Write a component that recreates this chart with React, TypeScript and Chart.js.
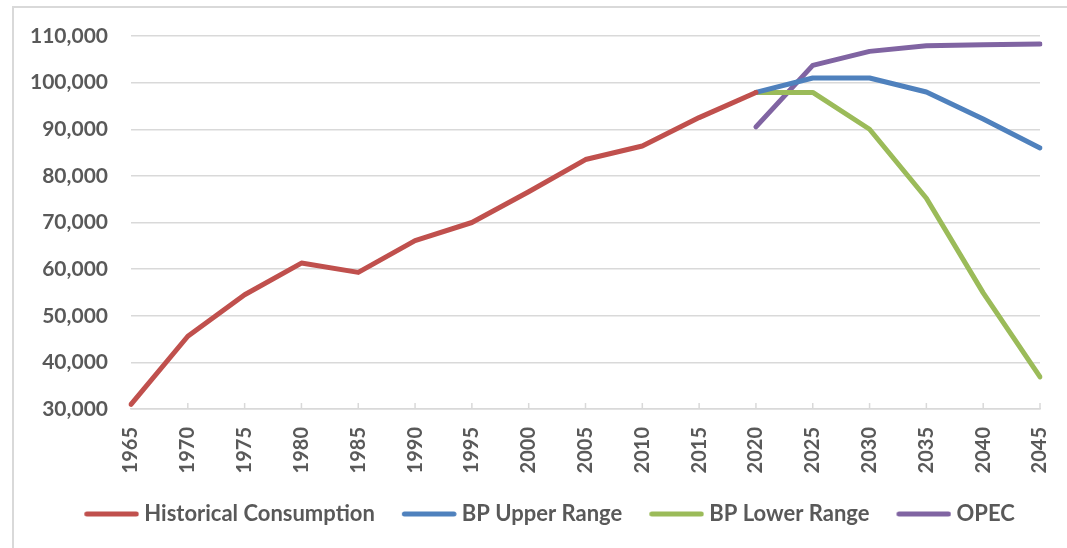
import React, { useEffect, useRef } from 'react';
import { Chart, registerables } from 'chart.js';

Chart.register(...registerables);

const years = ['1965', '1970', '1975', '1980', '1985', '1990', '1995', '2000', '2005', '2010', '2015', '2020', '2025', '2030', '2035', '2040', '2045'];
const historical = [31000, 45600, 54500, 61300, 59300, 66100, 70000, 76600, 83500, 86400, 92500, 97900, null, null, null, null, null];
const bpUpper = [null, null, null, null, null, null, null, null, null, null, null, 97900, 101000, 101000, 98000, 92200, 86000];
const bpLower = [null, null, null, null, null, null, null, null, null, null, null, 97900, 97900, 90000, 75200, 54900, 36900];
const opec = [null, null, null, null, null, null, null, null, null, null, null, 90500, 103700, 106700, 107900, 108100, 108300];

const seriesNames = ['Historical Consumption', 'BP Upper Range', 'BP Lower Range', 'OPEC'];
const seriesColors = ['#c0504d', '#4f81bd', '#9bbb59', '#8064a2'];

const yMin = 30000;
const yMax = 110000;
const yStep = 10000;

const FONT = 'Lato, "Open Sans", sans-serif';
const TEXT = '#595959';
const GRID = '#d9d9d9';
const LEGEND_SHIFT = 29;

function makeLegendSwatch(color: string) {
  const c = document.createElement('canvas');
  c.width = 62;
  c.height = 8;
  const g = c.getContext('2d');
  if (g) {
    g.strokeStyle = color;
    g.lineWidth = 5;
    g.lineCap = 'round';
    g.beginPath();
    g.moveTo(9.5, 4);
    g.lineTo(59, 4);
    g.stroke();
  }
  return c;
}

const helpers = {
  id: 'chartHelpers',
  afterLayout(chart: any) {
    if (chart.legend) {
      chart.legend.left += LEGEND_SHIFT;
      chart.legend.right += LEGEND_SHIFT;
    }
  },
  beforeDatasetsDraw(chart: any) {
    const x = chart.scales.x;
    const ctx = chart.ctx;
    const bottom = chart.chartArea.bottom;
    ctx.save();
    ctx.strokeStyle = GRID;
    ctx.lineWidth = 1.5;
    for (let i = 1; i < x.ticks.length; i++) {
      const px = x.getPixelForTick(i);
      ctx.beginPath();
      ctx.moveTo(px, bottom - 6);
      ctx.lineTo(px, bottom);
      ctx.stroke();
    }
    ctx.restore();
  },
};

export default function App() {
  const canvasRef = useRef<HTMLCanvasElement | null>(null);

  useEffect(() => {
    if (!canvasRef.current) return;
    const allData = [historical, bpUpper, bpLower, opec];
    const swatches = seriesColors.map((c) => makeLegendSwatch(c));
    const defaultGen = (Chart as any).defaults.plugins.legend.labels.generateLabels;
    const chart = new Chart(canvasRef.current, {
      type: 'line',
      data: {
        labels: years,
        datasets: allData.map((d, i) => ({
          label: seriesNames[i],
          data: d,
          borderColor: seriesColors[i],
          backgroundColor: seriesColors[i],
          borderWidth: 5,
          borderCapStyle: 'round',
          borderJoinStyle: 'round',
          pointRadius: 0,
          pointHoverRadius: 0,
          tension: 0,
          fill: false,
          spanGaps: false,
        })),
      },
      options: {
        responsive: false,
        animation: false,
        devicePixelRatio: 1,
        layout: { padding: { top: 36, right: 27, bottom: 13, left: 0 } },
        plugins: {
          tooltip: { enabled: false },
          legend: {
            position: 'bottom',
            labels: {
              usePointStyle: true,
              pointStyleWidth: 50,
              padding: 26,
              color: TEXT,
              font: { family: FONT, size: 22, weight: 'bold' },
              generateLabels: (ch: any) => {
                const items = defaultGen(ch);
                items.forEach((it: any, i: number) => {
                  it.pointStyle = swatches[it.datasetIndex ?? i];
                });
                return items;
              },
            },
          },
        },
        scales: {
          x: {
            type: 'category',
            offset: false,
            grid: { display: false, drawTicks: false },
            border: { display: true, color: GRID, width: 1.5 },
            ticks: {
              autoSkip: false,
              maxRotation: 90,
              minRotation: 90,
              padding: 18,
              color: TEXT,
              font: { family: FONT, size: 20, weight: 'bold' },
            },
            afterFit: (scale: any) => {
              scale.height = 68;
              scale.paddingLeft = 0;
              scale.paddingRight = 0;
            },
          },
          y: {
            min: yMin,
            max: yMax,
            grid: { color: GRID, lineWidth: 1.5, drawTicks: false },
            border: { display: false },
            ticks: {
              stepSize: yStep,
              padding: 23,
              color: TEXT,
              font: { family: FONT, size: 21, weight: 'bold' },
              callback: (v: any) => Number(v).toLocaleString('en-US'),
            },
            afterFit: (scale: any) => {
              scale.width = 131;
            },
          },
        },
      } as any,
      plugins: [helpers],
    });
    return () => chart.destroy();
  }, []);

  return (
    <div style={{ position: 'fixed', left: 0, top: 0, width: 1067, height: 548, background: '#ffffff', overflow: 'hidden' }}>
      <div
        style={{
          position: 'absolute',
          left: 12,
          top: 6,
          width: 1100,
          height: 600,
          borderLeft: `2px solid ${GRID}`,
          borderTop: `2px solid ${GRID}`,
        }}
      />
      <canvas ref={canvasRef} width={1067} height={548} style={{ position: 'absolute', left: 0, top: 0, width: 1067, height: 548 }} />
    </div>
  );
}
